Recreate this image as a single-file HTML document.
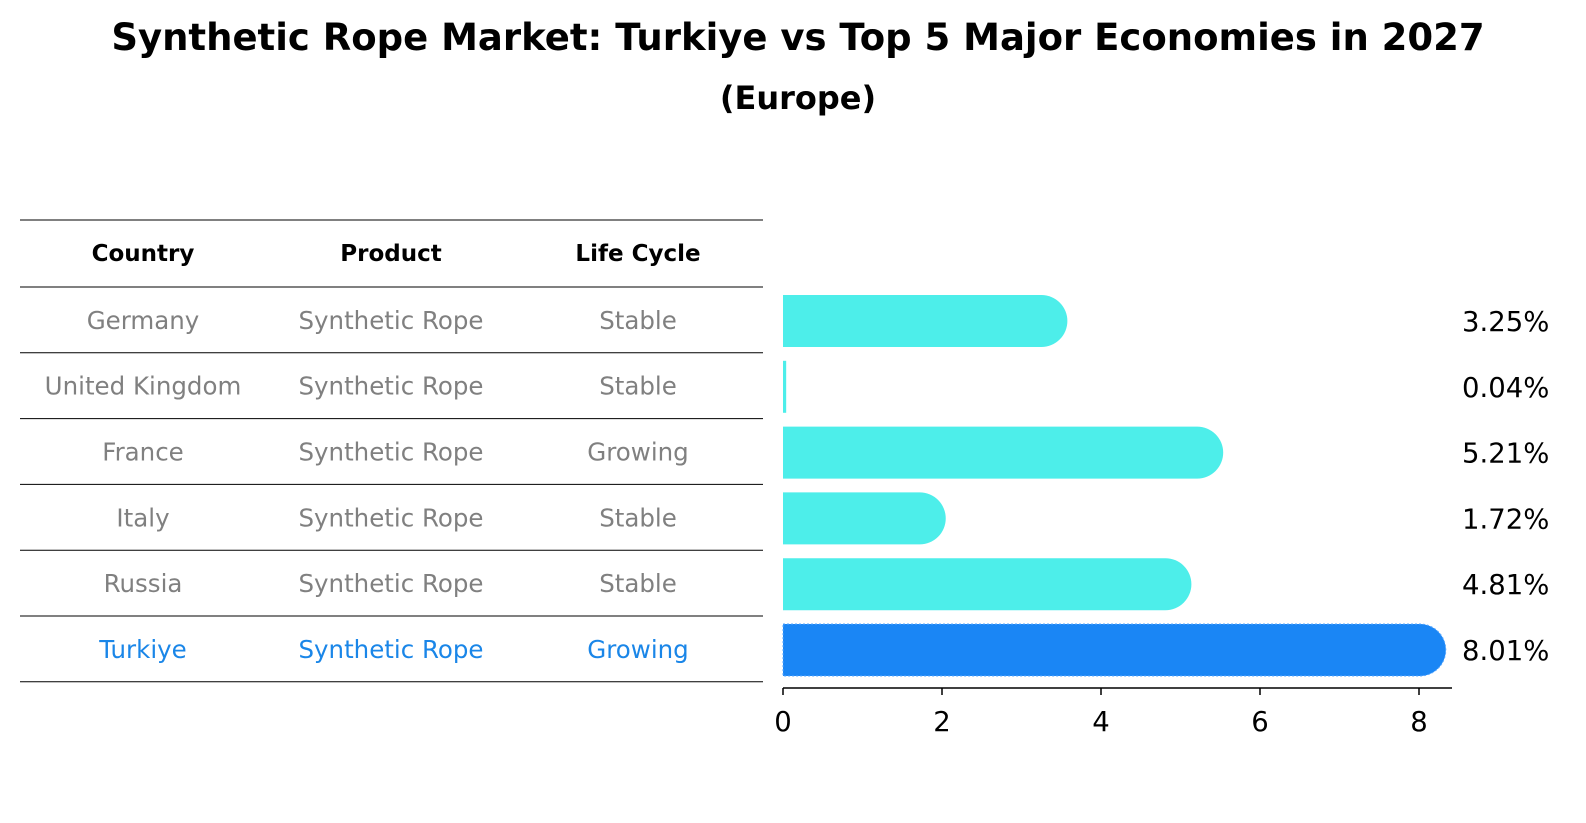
<!DOCTYPE html>
<html><head><meta charset="utf-8"><style>
body{margin:0;background:#fff;font-family:"DejaVu Sans","Liberation Sans",sans-serif;}
#root{position:relative;width:1586px;height:823px;overflow:hidden;}
</style></head><body>
<div id="root">
<svg id="svg" width="1586" height="823" style="position:absolute;left:0;top:0">
<text x="798" y="50" text-anchor="middle" font-size="37" font-weight="bold" font-family="DejaVu Sans, Liberation Sans, sans-serif">Synthetic Rope Market: Turkiye vs Top 5 Major Economies in 2027</text>
<text x="798" y="109" text-anchor="middle" font-size="32" font-weight="bold" font-family="DejaVu Sans, Liberation Sans, sans-serif">(Europe)</text>
</svg>
</div>
<script>
const countries=["Germany","United Kingdom","France","Italy","Russia","Turkiye"];
const products=["Synthetic Rope","Synthetic Rope","Synthetic Rope","Synthetic Rope","Synthetic Rope","Synthetic Rope"];
const lifeCycles=["Stable","Stable","Growing","Stable","Stable","Growing"];
const values=[3.25,0.04,5.21,1.72,4.81,8.01];
const ticks=[0,2,4,6,8];
const highlight="Turkiye";

const NS="http://www.w3.org/2000/svg";
const svg=document.getElementById('svg');
function mk(tag,attrs,text){const e=document.createElementNS(NS,tag);for(const k in attrs)e.setAttribute(k,attrs[k]);if(text!==undefined)e.textContent=text;svg.appendChild(e);return e;}
const x0=783,xs=79.5;
const X=v=>x0+v*xs;
const rowTop=i=>287+i*65.8;
const R=26;
const font="DejaVu Sans, Liberation Sans, sans-serif";

const cols=[143,391,638];
const headers=["Country","Product","Life Cycle"];
headers.forEach((h,j)=>{
 const t=mk('text',{x:cols[j],y:261,'text-anchor':'middle','font-size':23,'font-weight':'bold','font-family':font,fill:'#000'},h);
 
 
});
const lt=mk('line',{x1:20,x2:763,y1:220,y2:220,stroke:'#000','stroke-width':1});


for(let i=0;i<=countries.length;i++){
 const y=rowTop(i);
 const l=mk('line',{x1:20,x2:763,y1:y,y2:y,stroke:'#000','stroke-width':1});
 
 
}
countries.forEach((c,i)=>{
 const hl=c===highlight;
 const col=hl?'#1a86e8':'#808080';
 const cy=rowTop(i)+32.9+9;
 [c,products[i],lifeCycles[i]].forEach((v,j)=>{
  const t=mk('text',{x:cols[j],y:cy,'text-anchor':'middle','font-size':24.5,'font-family':font,fill:col},v);
  
  
 });
 const top=rowTop(i)+8,h=52;
 const xe=X(values[i]);
 const fill=hl?'#1a86f5':'#4deeea';
 let d;
 if(xe-x0<R){
  d=`M${x0},${top} L${Math.max(xe,x0+3)},${top} L${Math.max(xe,x0+3)},${top+h} L${x0},${top+h} Z`;
 } else {
  d=`M${x0},${top} L${xe},${top} A${R},${R} 0 0 1 ${xe},${top+h} L${x0},${top+h} Z`;
 }
 const p=mk('path',{d:d,fill:fill});
 if(hl){p.setAttribute('stroke','#5aa8ff');p.setAttribute('stroke-dasharray','2,2');p.setAttribute('stroke-width','1');}
 
 
 const vl=mk('text',{x:1462,y:top+h/2+10,'font-size':27.5,'font-family':font,fill:'#000'},values[i].toFixed(2)+'%');
 
 
});
const ax=mk('line',{x1:x0,x2:1452,y1:688,y2:688,stroke:'#000','stroke-width':1.5});


ticks.forEach(v=>{
 const tl=mk('line',{x1:X(v),x2:X(v),y1:688,y2:695,stroke:'#000','stroke-width':1.5});
 
 
 const tt=mk('text',{x:X(v),y:731,'text-anchor':'middle','font-size':27.5,'font-family':font,fill:'#000'},String(v));
 
 
});
</script>
</body></html>
